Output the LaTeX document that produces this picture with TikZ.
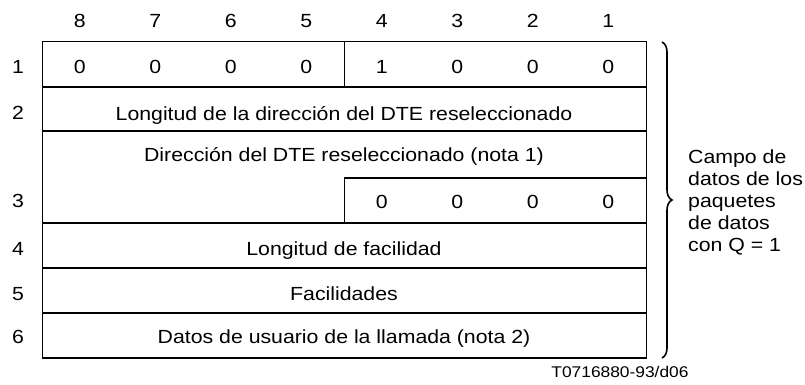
\documentclass[tikz,border=0pt]{standalone}
\usepackage{fontspec}
\setmainfont{Liberation Sans}[FakeStretch=1.12]
\usetikzlibrary{decorations.pathreplacing}
\begin{document}
\begin{tikzpicture}[x=1pt,y=-1pt,
  txt/.style={font=\fontsize{19}{22}\selectfont, inner sep=0pt, anchor=base},
  note/.style={font=\fontsize{15.5}{18}\selectfont, inner sep=0pt, anchor=base},
  outer/.style={line width=1pt},
  sep/.style={line width=1.5pt},
  bracestyle/.style={line width=1.6pt, decorate, decoration={brace, amplitude=10pt}}]
\useasboundingbox (0,0) rectangle (805,385);
% column numbers
\foreach \n [count=\j from 0] in {8,7,6,5,4,3,2,1}
  \node[txt] (col\n) at ({42+75.5*(\j+0.5)},28) {\n};
% row labels
\node[txt] (r1) at (18,74) {1};
\node[txt] (r2) at (18,120) {2};
\node[txt] (r3) at (18,207) {3};
\node[txt] (r4) at (18,255) {4};
\node[txt] (r5) at (18,300) {5};
\node[txt] (r6) at (18,343) {6};
% table frame
\draw[outer] (42,42) rectangle (646,358);
\draw[sep] (42,87) -- (646,87);
\draw[sep] (42,131) -- (646,131);
\draw[sep] (344,178) -- (646,178);
\draw[sep] (42,223) -- (646,223);
\draw[sep] (42,268) -- (646,268);
\draw[sep] (42,313) -- (646,313);
\draw[sep] (42,358) -- (646,358);
\draw[outer] (344,42) -- (344,87);
\draw[outer] (344,178) -- (344,223);
% row 1 bits
\foreach \v [count=\j from 0] in {0,0,0,0,1,0,0,0}
  \node[txt] (b1-\j) at ({42+75.5*(\j+0.5)},74) {\v};
% row 3 bits
\foreach \j in {4,5,6,7}
  \node[txt] (b3-\j) at ({42+75.5*(\j+0.5)},208) {0};
% field texts
\node[txt] (f2) at (344,121) {Longitud de la dirección del DTE reseleccionado};
\node[txt] (f3) at (344,161) {Dirección del DTE reseleccionado (nota 1)};
\node[txt] (f4) at (344,255) {Longitud de facilidad};
\node[txt] (f5) at (344,300) {Facilidades};
\node[txt] (f6) at (344,343) {Datos de usuario de la llamada (nota 2)};
% brace
\coordinate (btop) at (662,42);
\coordinate (bbot) at (662,358);
\draw[bracestyle] (btop) -- (bbot);
\node[txt, anchor=base west, align=left, font=\fontsize{19}{21.8}\selectfont] (camp) at (688,251)
  {Campo de\\datos de los\\paquetes\\de datos\\con Q = 1};
% footer
\node[note] (foot) at (620,377) {T0716880-93/d06};
\end{tikzpicture}
\end{document}
